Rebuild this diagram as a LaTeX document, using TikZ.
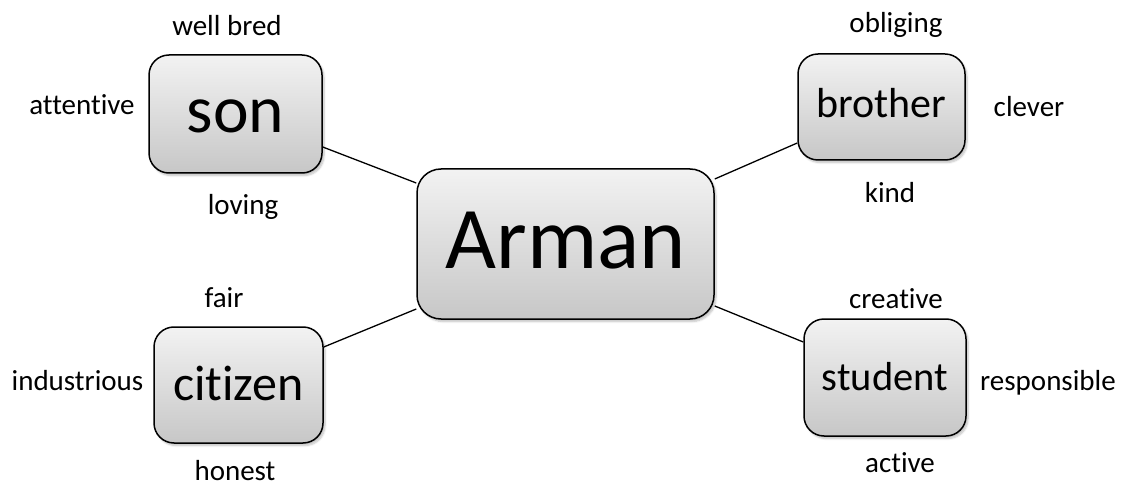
\documentclass[tikz,border=0pt]{standalone}
\usepackage{fontspec}
\setmainfont{Carlito}[Ligatures=NoCommon]
\usetikzlibrary{shadows.blur}
\begin{document}
\begin{tikzpicture}[x=1pt,y=-1pt,
  box/.style={draw=black, line width=1.5pt, rounded corners=20pt,
    top color=black!5, bottom color=black!22, inner sep=0pt, text depth=0pt,
    blur shadow={shadow xshift=2pt, shadow yshift=-2.5pt, shadow opacity=25, shadow blur steps=6}},
  trait/.style={font=\fontsize{29}{34}\selectfont, inner sep=0pt, anchor=base},
  link/.style={line width=1.3pt}]
\useasboundingbox (0,0) rectangle (1121,486);

% central node and its four roles (text height sets the baseline inside each box)
\node[box, minimum width=297pt, minimum height=150pt, rounded corners=24pt,
  text height=50pt, font=\fontsize{88}{96}\selectfont] (arman) at (565.5,244) {Arman};
\node[box, minimum width=173pt, minimum height=118pt,
  text height=38pt, font=\fontsize{67.5}{72}\selectfont] (son) at (235.5,114) {son};
\node[box, minimum width=167pt, minimum height=106pt,
  text height=22pt, font=\fontsize{42}{46}\selectfont] (brother) at (881.5,107) {brother};
\node[box, minimum width=169pt, minimum height=116pt,
  text height=30pt, font=\fontsize{50}{54}\selectfont] (citizen) at (238.5,385) {citizen};
\node[box, minimum width=162pt, minimum height=117pt,
  text height=25pt, font=\fontsize{40.5}{46}\selectfont] (student) at (885,377.5) {student};

% connectors
\draw[link] ([yshift=-33pt]son.east) -- ([yshift=61pt]arman.west);
\draw[link] ([yshift=65pt]arman.east) -- ([yshift=-36pt]brother.west);
\draw[link] ([yshift=38pt]citizen.east) -- ([yshift=-65pt]arman.west);
\draw[link] ([yshift=-62pt]arman.east) -- ([yshift=35.5pt]student.west);

% traits (placed by baseline)
\node[trait] (t1) at (227,36) {well bred};
\node[trait] (t2) at (82,115) {attentive};
\node[trait] (t3) at (243,215) {loving};
\node[trait] (t4) at (896,33) {obliging};
\node[trait] (t5) at (1029,117) {clever};
\node[trait] (t6) at (890,203) {kind};
\node[trait] (t7) at (224,307) {fair};
\node[trait] (t8) at (77.5,390) {industrious};
\node[trait] (t9) at (235,480) {honest};
\node[trait] (t10) at (896,308) {creative};
\node[trait] (t11) at (1048,390) {responsible};
\node[trait] (t12) at (900,472) {active};
\end{tikzpicture}
\end{document}
